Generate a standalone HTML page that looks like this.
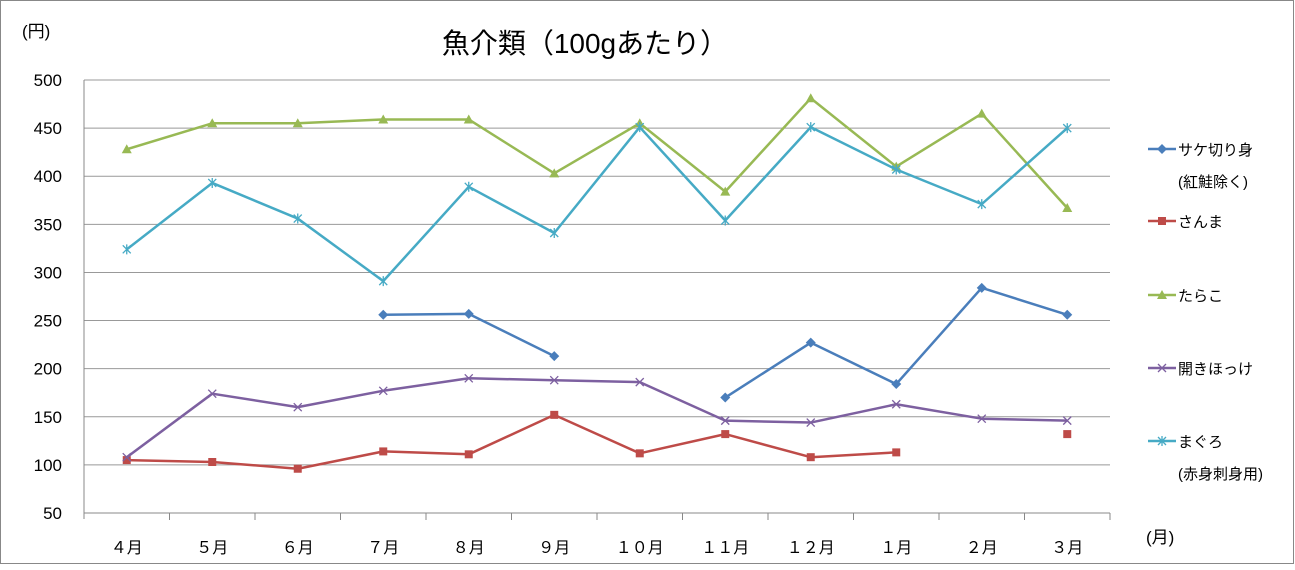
<!DOCTYPE html>
<html><head><meta charset="utf-8"><style>
body{margin:0;background:#fff}
svg text{font-family:"Liberation Sans","Noto Sans CJK JP",sans-serif;fill:#000}
</style></head><body>
<svg width="1295" height="565" xmlns="http://www.w3.org/2000/svg">
<rect x="0.5" y="0.5" width="1293" height="563" fill="#fff" stroke="#888"/>
<text x="585" y="53" font-size="28" text-anchor="middle">魚介類（100gあたり）</text>
<text x="22" y="37" font-size="17">(円)</text>
<text x="1146" y="543" font-size="17">(月)</text>
<g id="grid"></g><g id="series"></g><g id="legend"></g>
</svg>
<script>
const categories=["４月","５月","６月","７月","８月","９月","１０月","１１月","１２月","１月","２月","３月"];
const yTicks=[50,100,150,200,250,300,350,400,450,500];
const sake=[null,null,null,256,257,213,null,170,227,184,284,256];
const sanma=[105,103,96,114,111,152,112,132,108,113,null,132];
const tarako=[428,455,455,459,459,403,455,384,481,410,465,367];
const hokke=[108,174,160,177,190,188,186,146,144,163,148,146];
const maguro=[324,393,356,291,389,341,451,354,451,407,371,450];
const NS="http://www.w3.org/2000/svg";
const X0=84,X1=1110,Y0=513,Y1=80,band=(X1-X0)/categories.length;
const x=i=>X0+band*(i+0.5);
const y=v=>Y0-(v-50)/450*(Y0-Y1);
function mk(t,a,p){const e=document.createElementNS(NS,t);for(const k in a)e.setAttribute(k,a[k]);p.appendChild(e);return e;}
const grid=document.getElementById('grid');
yTicks.forEach(v=>{
 const l=mk('line',{x1:X0,x2:X1,y1:y(v),y2:y(v),stroke:v===50?'#888':'#999','stroke-width':1},grid);
 
 
 const t=mk('text',{x:62,y:y(v)+6,'font-size':17,'text-anchor':'end'},grid);t.textContent=v;
 
 
});
mk('line',{x1:X0,x2:X0,y1:Y1,y2:Y0+6,stroke:'#888'},grid);
categories.forEach((c,i)=>{
 const tk=mk('line',{x1:X0+band*(i+1),x2:X0+band*(i+1),y1:Y0,y2:Y0+7,stroke:'#888'},grid);
 
 
 const t=mk('text',{x:x(i),y:553,'font-size':16,'text-anchor':'middle'},grid);t.textContent=c;
 
 
});
function marker(g,type,cx,cy,col){
 if(type==='diamond')mk('path',{d:`M${cx} ${cy-5}L${cx+5} ${cy}L${cx} ${cy+5}L${cx-5} ${cy}Z`,fill:col},g);
 else if(type==='square')mk('rect',{x:cx-4,y:cy-4,width:8,height:8,fill:col},g);
 else if(type==='tri')mk('path',{d:`M${cx} ${cy-5}L${cx+5} ${cy+4}L${cx-5} ${cy+4}Z`,fill:col},g);
 else if(type==='x')mk('path',{d:`M${cx-4} ${cy-4}L${cx+4} ${cy+4}M${cx+4} ${cy-4}L${cx-4} ${cy+4}`,stroke:col,'stroke-width':1.3},g);
 else mk('path',{d:`M${cx-4} ${cy-4}L${cx+4} ${cy+4}M${cx+4} ${cy-4}L${cx-4} ${cy+4}M${cx} ${cy-5}L${cx} ${cy+5}`,stroke:col,'stroke-width':1.3},g);
}
const defs=[
 {d:sake,col:'#4a7ebb',m:'diamond',name:'sake',lab:['サケ切り身','(紅鮭除く)'],ly:149},
 {d:sanma,col:'#be4b48',m:'square',name:'sanma',lab:['さんま'],ly:221},
 {d:tarako,col:'#98b954',m:'tri',name:'tarako',lab:['たらこ'],ly:295},
 {d:hokke,col:'#7d60a0',m:'x',name:'hokke',lab:['開きほっけ'],ly:368},
 {d:maguro,col:'#46aac5',m:'star',name:'maguro',lab:['まぐろ','(赤身刺身用)'],ly:441}
];
const sg=document.getElementById('series'),lg=document.getElementById('legend');
defs.forEach(s=>{
 const g=mk('g',{},sg);
 
 
 let seg=[];
 const flush=()=>{if(seg.length>1)mk('polyline',{points:seg.join(' '),fill:'none',stroke:s.col,'stroke-width':2.5,'stroke-linejoin':'round'},g);seg=[];};
 s.d.forEach((v,i)=>{if(v==null)flush();else seg.push(x(i)+','+y(v));});flush();
 s.d.forEach((v,i)=>{if(v!=null)marker(g,s.m,x(i),y(v),s.col);});
 const le=mk('g',{},lg);
 
 
 mk('line',{x1:1148,x2:1176,y1:s.ly,y2:s.ly,stroke:s.col,'stroke-width':2.5},le);
 marker(le,s.m,1162,s.ly,s.col);
 s.lab.forEach((t,k)=>{const tx=mk('text',{x:1178,y:s.ly+6+k*32,'font-size':15},le);tx.textContent=t;});
});
</script>
</body></html>
